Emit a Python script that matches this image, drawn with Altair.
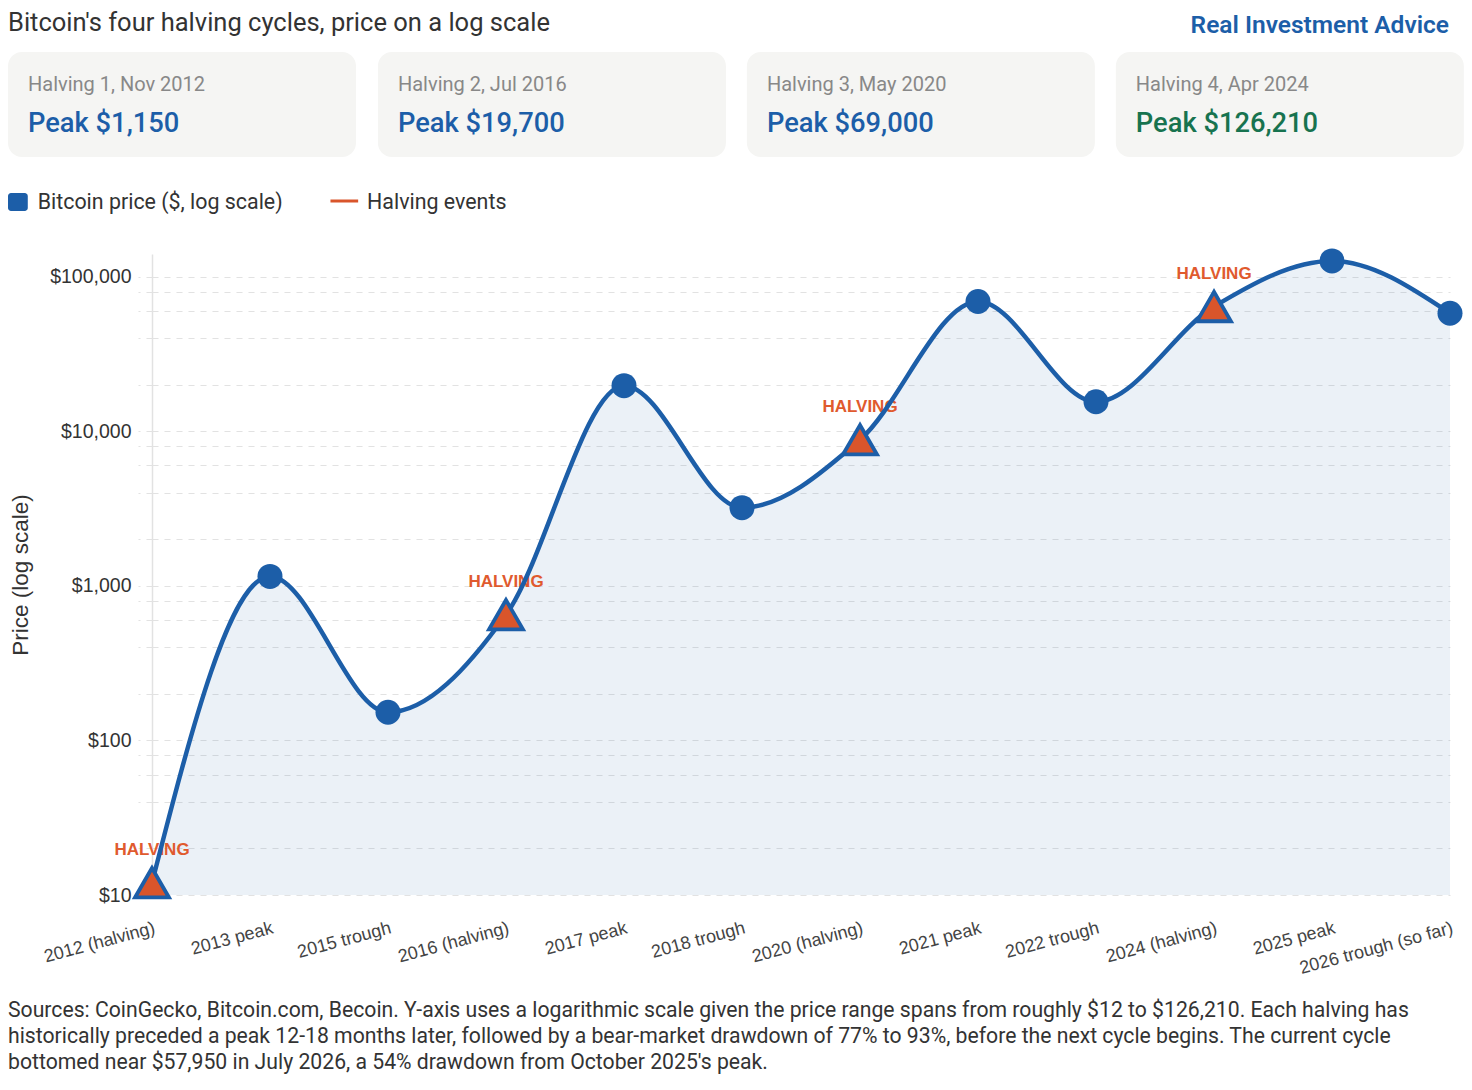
import altair as alt
import pandas as pd

# ---------------- data ----------------
categories = ["2012 (halving)", "2013 peak", "2015 trough", "2016 (halving)", "2017 peak",
              "2018 trough", "2020 (halving)", "2021 peak", "2022 trough", "2024 (halving)",
              "2025 peak", "2026 trough (so far)"]
prices = [12, 1150, 152, 650, 19700, 3200, 8800, 69000, 15500, 64000, 126210, 57950]
is_halving = [True, False, False, True, False, False, True, False, False, True, False, False]

card_titles = ["Halving 1, Nov 2012", "Halving 2, Jul 2016", "Halving 3, May 2020", "Halving 4, Apr 2024"]
card_values = ["Peak $1,150", "Peak $19,700", "Peak $69,000", "Peak $126,210"]
card_current = [False, False, False, True]

y_label_values = [10, 100, 1000, 10000, 100000]
y_grid_values = [10, 20, 40, 60, 80, 100, 200, 400, 600, 800, 1000, 2000, 4000, 6000, 8000,
                 10000, 20000, 40000, 60000, 80000, 100000]

chart_title = "Bitcoin's four halving cycles, price on a log scale"
brand = "Real Investment Advice"
legend_labels = ["Bitcoin price ($, log scale)", "Halving events"]
halving_tag = "HALVING"
y_title = "Price (log scale)"
footer_lines = [
    "Sources: CoinGecko, Bitcoin.com, Becoin. Y-axis uses a logarithmic scale given the price range spans from roughly $12 to $126,210. Each halving has",
    "historically preceded a peak 12-18 months later, followed by a bear-market drawdown of 77% to 93%, before the next cycle begins. The current cycle",
    "bottomed near $57,950 in July 2026, a 54% drawdown from October 2025's peak.",
]

# ---------------- layout / style ----------------
W, H = 1298, 641
PAD_L, PAD_T = 144, 246
TOTAL_W, TOTAL_H = 1456, 1070
PAD_R = TOTAL_W - PAD_L - W
PAD_B = TOTAL_H - PAD_T - H
ORIGIN_X, ORIGIN_Y = 8 + PAD_L, 8 + PAD_T

BLUE = "#1c5ea8"
ORANGE = "#d9552b"
ORANGE_TXT = "#e05a2e"
GREEN = "#17734f"
CARD_BG = "#f5f5f3"
GRID = "#e2e2e2"
UI_FONT = "Roboto"
AX_FONT = "Liberation Sans"


def hx(ref_x):
    # header/footer horizontal position: page x in [8, 1464]
    return 8 + ref_x * TOTAL_W / 1472 - ORIGIN_X


def vy(ref_y):
    return ref_y - ORIGIN_Y


df = pd.DataFrame({"cat": categories, "price": prices, "halving": is_halving})

x_enc = alt.X(
    "cat:N", sort=categories,
    scale=alt.Scale(type="point", padding=0),
    axis=alt.Axis(title=None, labelAngle=345, labelAlign="right", labelBaseline="top",
                  labelPadding=24, ticks=False, domain=False, grid=False,
                  labelFont=AX_FONT, labelFontSize=18, labelColor="#444444",
                  labelOverlap=False, labelLimit=400),
)
label_expr = ("indexof([" + ",".join(str(v) for v in y_label_values) +
              "], datum.value) >= 0 ? '$' + format(datum.value, ',') : ''")
y_enc = alt.Y(
    "price:Q",
    scale=alt.Scale(type="log", domain=[10, 140000], nice=False),
    axis=alt.Axis(title=y_title, values=y_grid_values, labelExpr=label_expr,
                  grid=True, gridDash=[6, 6], gridColor=GRID, gridWidth=1.2,
                  tickSize=14, tickColor=GRID, tickDash=[6, 6], tickWidth=1.2,
                  labelPadding=7, domain=True, domainColor=GRID, domainWidth=1.5,
                  labelFont=AX_FONT, labelFontSize=19.5, labelColor="#333333",
                  labelOverlap=False,
                  titleFont=AX_FONT, titleFontSize=22.5, titleFontWeight="normal",
                  titleColor="#333333", titleX=20 - ORIGIN_X, titleY=H / 2,
                  titleBaseline="middle", titleAngle=270),
)

base = alt.Chart(df).encode(x=x_enc, y=y_enc)

area = base.mark_area(interpolate="monotone", color=BLUE, opacity=0.085).encode(y2=alt.datum(10))
tags = base.transform_filter("datum.halving").mark_text(
    text=halving_tag, dy=-33, font=AX_FONT, fontSize=17, fontWeight="bold", color=ORANGE_TXT)
line = base.mark_line(interpolate="monotone", color=BLUE, strokeWidth=4.5)
circles = base.transform_filter("!datum.halving").mark_point(
    shape="circle", filled=True, size=625, color=BLUE, opacity=1)
triangles = base.transform_filter("datum.halving").mark_point(
    shape="triangle-up", filled=True, size=1150, fill=ORANGE, stroke=BLUE,
    strokeWidth=3.8, opacity=1, fillOpacity=1, strokeOpacity=1)

layers = [area, tags, line, circles, triangles]


def text_layer(txt, x, y, size, color, weight="normal", align="left", font=UI_FONT):
    return alt.Chart(pd.DataFrame({"t": [txt]})).mark_text(
        align=align, baseline="middle", font=font, fontSize=size, fontWeight=weight,
        color=color).encode(text="t:N", x=alt.value(x), y=alt.value(y))


# header
layers.append(text_layer(chart_title, hx(0), vy(23), 25.5, "#333333"))
layers.append(text_layer(brand, 1449 - ORIGIN_X, vy(26), 24.5, BLUE, weight=600, align="right"))

card_lefts = [0, 374, 747, 1120]
card_w = 348
for i in range(4):
    left = hx(card_lefts[i])
    layers.append(
        alt.Chart(pd.DataFrame({"i": [i]})).mark_rect(color=CARD_BG, cornerRadius=14).encode(
            x=alt.value(left), x2=alt.value(left + card_w), y=alt.value(vy(52)), y2=alt.value(vy(157))))
    layers.append(text_layer(card_titles[i], left + 20, vy(85), 20, "#888888"))
    layers.append(text_layer(card_values[i], left + 20, vy(124), 27.3,
                             GREEN if card_current[i] else BLUE, weight=500))

# legend
layers.append(
    alt.Chart(pd.DataFrame({"i": [0]})).mark_rect(color=BLUE, cornerRadius=3).encode(
        x=alt.value(hx(0)), x2=alt.value(hx(20)), y=alt.value(vy(193)), y2=alt.value(vy(211))))
layers.append(text_layer(legend_labels[0], hx(30), vy(203), 21.4, "#333333"))
layers.append(
    alt.Chart(pd.DataFrame({"i": [0]})).mark_rule(color=ORANGE, strokeWidth=3).encode(
        x=alt.value(hx(326)), x2=alt.value(hx(354)), y=alt.value(vy(201))))
layers.append(text_layer(legend_labels[1], hx(363), vy(203), 21.4, "#333333"))

# footer
footer_y = [1011, 1037, 1063]
for j, ln in enumerate(footer_lines):
    layers.append(text_layer(ln, hx(0), vy(footer_y[j]), 21.2, "#333333"))

chart = alt.layer(*layers).properties(
    width=W, height=H,
    autosize=alt.AutoSizeParams(type="none"),
    padding={"left": PAD_L, "top": PAD_T, "right": PAD_R, "bottom": PAD_B},
    background="white",
).configure_view(stroke=None)

chart.save("out.html", embed_options={"renderer": "svg", "actions": False})
